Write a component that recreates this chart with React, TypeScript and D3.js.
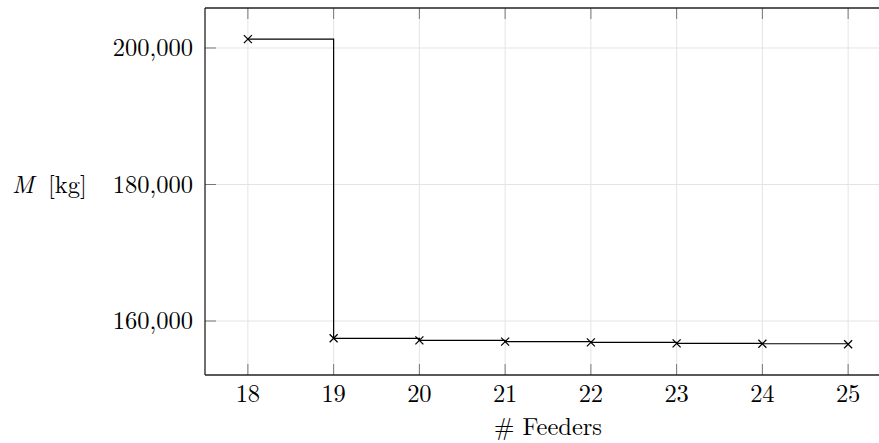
import React from "react";
import { scaleLinear, line, curveStepAfter, format } from "d3";

const feeders = [18, 19, 20, 21, 22, 23, 24, 25];
const mass = [201300, 157470, 157170, 156980, 156880, 156730, 156670, 156590];
const yTicks = [160000, 180000, 200000];
const xLabel = "# Feeders";

const W = 879;
const H = 443;
const left = 205;
const top = 8;
const bottom = 375;
const right = 891;

export default function App() {
  const x = scaleLinear().domain([17.5, 25.5]).range([left, right]);
  const y = scaleLinear().domain([152090, 205860]).range([bottom, top]);
  const fmt = format(",");
  const pts: [number, number][] = feeders.map((f, i) => [f, mass[i]]);
  const path = line<[number, number]>()
    .x((d) => x(d[0]))
    .y((d) => y(d[1]))
    .curve(curveStepAfter)(pts);
  const textStyle = {
    fontFamily:
      "'Latin Modern Roman', 'CMU Serif', 'Times New Roman', Tinos, 'Liberation Serif', 'DejaVu Serif', serif",
    fontSize: "24.5px",
  };
  const tick = 11;

  return (
    <svg
      width={W}
      height={H}
      style={{ position: "absolute", left: 0, top: 0, background: "#fff" }}
    >
      <g stroke="#e4e4e4" strokeWidth={1}>
        {feeders.map((f) => (
          <line key={"gx" + f} x1={x(f)} x2={x(f)} y1={top} y2={bottom} />
        ))}
        {yTicks.map((t) => (
          <line key={"gy" + t} x1={left} x2={right} y1={y(t)} y2={y(t)} />
        ))}
      </g>
      <g stroke="#777" strokeWidth={1}>
        {feeders.map((f) => (
          <g key={"tx" + f}>
            <line x1={x(f)} x2={x(f)} y1={bottom} y2={bottom - tick} />
            <line x1={x(f)} x2={x(f)} y1={top} y2={top + tick} />
          </g>
        ))}
        {yTicks.map((t) => (
          <line key={"ty" + t} x1={left} x2={left + tick} y1={y(t)} y2={y(t)} />
        ))}
      </g>
      <path d={path || ""} fill="none" stroke="#000" strokeWidth={1.2} />
      <g stroke="#000" strokeWidth={1.2}>
        {pts.map((d, i) => {
          const cx = x(d[0]);
          const cy = y(d[1]);
          const r = 4;
          return (
            <g key={"m" + i}>
              <line x1={cx - r} x2={cx + r} y1={cy - r} y2={cy + r} />
              <line x1={cx - r} x2={cx + r} y1={cy + r} y2={cy - r} />
            </g>
          );
        })}
      </g>
      <g fill="none" stroke="#222" strokeWidth={1.3}>
        <line x1={left} x2={left} y1={top} y2={bottom} />
        <line x1={left} x2={right} y1={top} y2={top} />
        <line x1={left} x2={right} y1={bottom} y2={bottom} />
      </g>
      <g fill="#000" style={textStyle}>
        {feeders.map((f) => (
          <text key={"lx" + f} x={x(f)} y={402} textAnchor="middle" style={textStyle}>
            {f}
          </text>
        ))}
        {yTicks.map((t) => (
          <text key={"ly" + t} x={193} y={y(t) + 8} textAnchor="end" style={textStyle}>
            {fmt(t)}
          </text>
        ))}
        <text x={(left + right) / 2} y={435} textAnchor="middle" style={textStyle}>
          {xLabel}
        </text>
        <text x={12} y={193} style={textStyle}>
          <tspan fontStyle="italic">M</tspan>
          <tspan dx={14}>[kg]</tspan>
        </text>
      </g>
    </svg>
  );
}
